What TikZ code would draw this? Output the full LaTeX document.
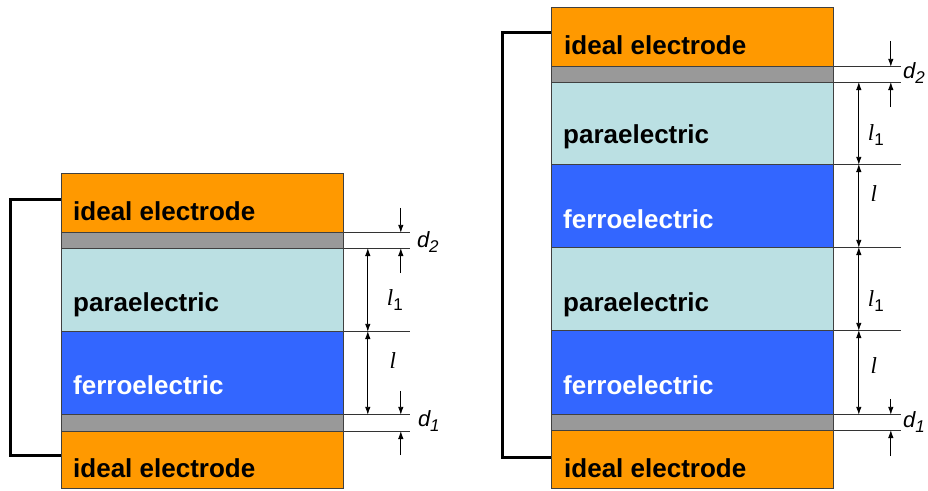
\documentclass[tikz,border=0pt]{standalone}
\usepackage{fontspec}
\setmainfont{Liberation Sans}
\newfontfamily\serifit{Liberation Serif}
\usetikzlibrary{arrows.meta,calc}
\definecolor{elec}{HTML}{FF9900}
\definecolor{gapc}{HTML}{999999}
\definecolor{para}{HTML}{BBE0E3}
\definecolor{ferro}{HTML}{3366FF}
\begin{document}
\begin{tikzpicture}[x=1pt,y=-1pt,
  lay/.style={draw=black!75, line width=0.8pt, anchor=north west, inner sep=0pt,
    minimum width=282pt, minimum height=#1},
  txt/.style={font=\bfseries\fontsize{26}{26}\selectfont, anchor=base west, inner sep=0pt},
  ext/.style={draw=black!80, line width=0.8pt},
  dim/.style={draw=black, line width=0.9pt, -{Latex[length=8pt,width=5.5pt]}},
  ddim/.style={draw=black, line width=0.9pt, {Latex[length=8pt,width=5.5pt]}-{Latex[length=8pt,width=5.5pt]}},
  dlab/.style={font=\itshape\fontsize{22}{22}\selectfont, anchor=west, inner sep=0pt},
  llab/.style={font=\fontsize{23}{23}\selectfont, inner sep=0pt},
  wire/.style={draw=black, line width=3pt}]
\useasboundingbox (0,0) rectangle (928,490);
\newcommand{\dsym}[1]{d\raisebox{-5pt}{\fontsize{17}{17}\selectfont #1}}
\newcommand{\lsym}[1]{{\serifit\itshape l}\raisebox{-5pt}{\fontsize{17}{17}\selectfont #1}}
% ---------- left stack ----------
\node[lay=59pt, fill=elec]  (Ltop)  at (61,173) {};
\node[lay=16pt, fill=gapc]  (Lg2)   at (61,232) {};
\node[lay=83pt, fill=para]  (Lpara) at (61,248) {};
\node[lay=83pt, fill=ferro] (Lfer)  at (61,331) {};
\node[lay=17pt, fill=gapc]  (Lg1)   at (61,414) {};
\node[lay=57pt, fill=elec]  (Lbot)  at (61,431) {};
\node[txt] (tLtop)  at ($(Ltop.north west)+(12,47)$) {ideal electrode};
\node[txt] (tLpara) at ($(Lpara.north west)+(12,63)$) {paraelectric};
\node[txt, text=white] (tLfer) at ($(Lfer.north west)+(12,63)$) {ferroelectric};
\node[txt] (tLbot)  at ($(Lbot.north west)+(12,46)$) {ideal electrode};
\draw[wire] ($(Ltop.north west)+(0,26)$) -- ++(-51,0) |- ($(Lbot.north west)+(0,24)$);
\draw[ext] (Ltop.south east) -- ++(66,0);
\draw[ext] (Lpara.north east) -- ++(66,0);
\draw[ext] (Lfer.north east) -- ++(66,0);
\draw[ext] (Lfer.south east) -- ++(66,0);
\draw[ext] (Lbot.north east) -- ++(66,0);
\draw[ddim] ($(Lpara.north east)+(24,0)$) -- ($(Lpara.south east)+(24,0)$);
\draw[ddim] ($(Lfer.north east)+(24,0)$) -- ($(Lfer.south east)+(24,0)$);
\draw[dim] ($(Ltop.south east)+(57,-25)$) -- ($(Ltop.south east)+(57,0)$);
\draw[dim] ($(Lpara.north east)+(57,25)$) -- ($(Lpara.north east)+(57,0)$);
\draw[dim] ($(Lfer.south east)+(57,-24)$) -- ($(Lfer.south east)+(57,0)$);
\draw[dim] ($(Lbot.north east)+(57,24)$) -- ($(Lbot.north east)+(57,0)$);
\node[dlab] (Ld2) at ($(Lg2.east)+(73,2)$) {\dsym{2}};
\node[llab] (Ll1) at ($(Lpara.east)+(51,10)$) {\lsym{1}};
\node[llab] (Ll)  at ($(Lfer.east)+(49,-10)$) {\lsym{}};
\node[dlab] (Ld1) at ($(Lg1.east)+(74,-2)$) {\dsym{1}};
% ---------- right stack ----------
\node[lay=59pt, fill=elec]  (Rtop) at (551,7) {};
\node[lay=16pt, fill=gapc]  (Rg2)  at (551,66) {};
\node[lay=82pt, fill=para]  (Rp1)  at (551,82) {};
\node[lay=83pt, fill=ferro] (Rf1)  at (551,164) {};
\node[lay=83pt, fill=para]  (Rp2)  at (551,247) {};
\node[lay=84pt, fill=ferro] (Rf2)  at (551,330) {};
\node[lay=16pt, fill=gapc]  (Rg1)  at (551,414) {};
\node[lay=58pt, fill=elec]  (Rbot) at (551,430) {};
\node[txt] (tRtop) at ($(Rtop.north west)+(13,47)$) {ideal electrode};
\node[txt] (tRp1)  at ($(Rp1.north west)+(12,61)$) {paraelectric};
\node[txt, text=white] (tRf1) at ($(Rf1.north west)+(12,64)$) {ferroelectric};
\node[txt] (tRp2)  at ($(Rp2.north west)+(12,64)$) {paraelectric};
\node[txt, text=white] (tRf2) at ($(Rf2.north west)+(12,64)$) {ferroelectric};
\node[txt] (tRbot) at ($(Rbot.north west)+(13,47)$) {ideal electrode};
\draw[wire] ($(Rtop.north west)+(0,25)$) -- ++(-49,0) |- ($(Rbot.north west)+(0,27)$);
\draw[ext] (Rtop.south east) -- ++(67,0);
\draw[ext] (Rp1.north east) -- ++(67,0);
\draw[ext] (Rf1.north east) -- ++(67,0);
\draw[ext] (Rp2.north east) -- ++(67,0);
\draw[ext] (Rf2.north east) -- ++(67,0);
\draw[ext] (Rf2.south east) -- ++(67,0);
\draw[ext] (Rbot.north east) -- ++(67,0);
\draw[ddim] ($(Rp1.north east)+(25,0)$) -- ($(Rp1.south east)+(25,0)$);
\draw[ddim] ($(Rf1.north east)+(25,0)$) -- ($(Rf1.south east)+(25,0)$);
\draw[ddim] ($(Rp2.north east)+(25,0)$) -- ($(Rp2.south east)+(25,0)$);
\draw[ddim] ($(Rf2.north east)+(25,0)$) -- ($(Rf2.south east)+(25,0)$);
\draw[dim] ($(Rtop.south east)+(57,-26)$) -- ($(Rtop.south east)+(57,0)$);
\draw[dim] ($(Rp1.north east)+(57,25)$) -- ($(Rp1.north east)+(57,0)$);
\draw[dim] ($(Rf2.south east)+(57,-16)$) -- ($(Rf2.south east)+(57,0)$);
\draw[dim] ($(Rbot.north east)+(57,26)$) -- ($(Rbot.north east)+(57,0)$);
\node[dlab] (Rd2) at ($(Rg2.east)+(69,-1)$) {\dsym{2}};
\node[llab] (Rl1a) at ($(Rp1.east)+(42,12)$) {\lsym{1}};
\node[llab] (Rla)  at ($(Rf1.east)+(40,-10)$) {\lsym{}};
\node[llab] (Rl1b) at ($(Rp2.east)+(42,12)$) {\lsym{1}};
\node[llab] (Rlb)  at ($(Rf2.east)+(40,-4)$) {\lsym{}};
\node[dlab] (Rd1) at ($(Rg1.east)+(69,0)$) {\dsym{1}};
\end{tikzpicture}
\end{document}
